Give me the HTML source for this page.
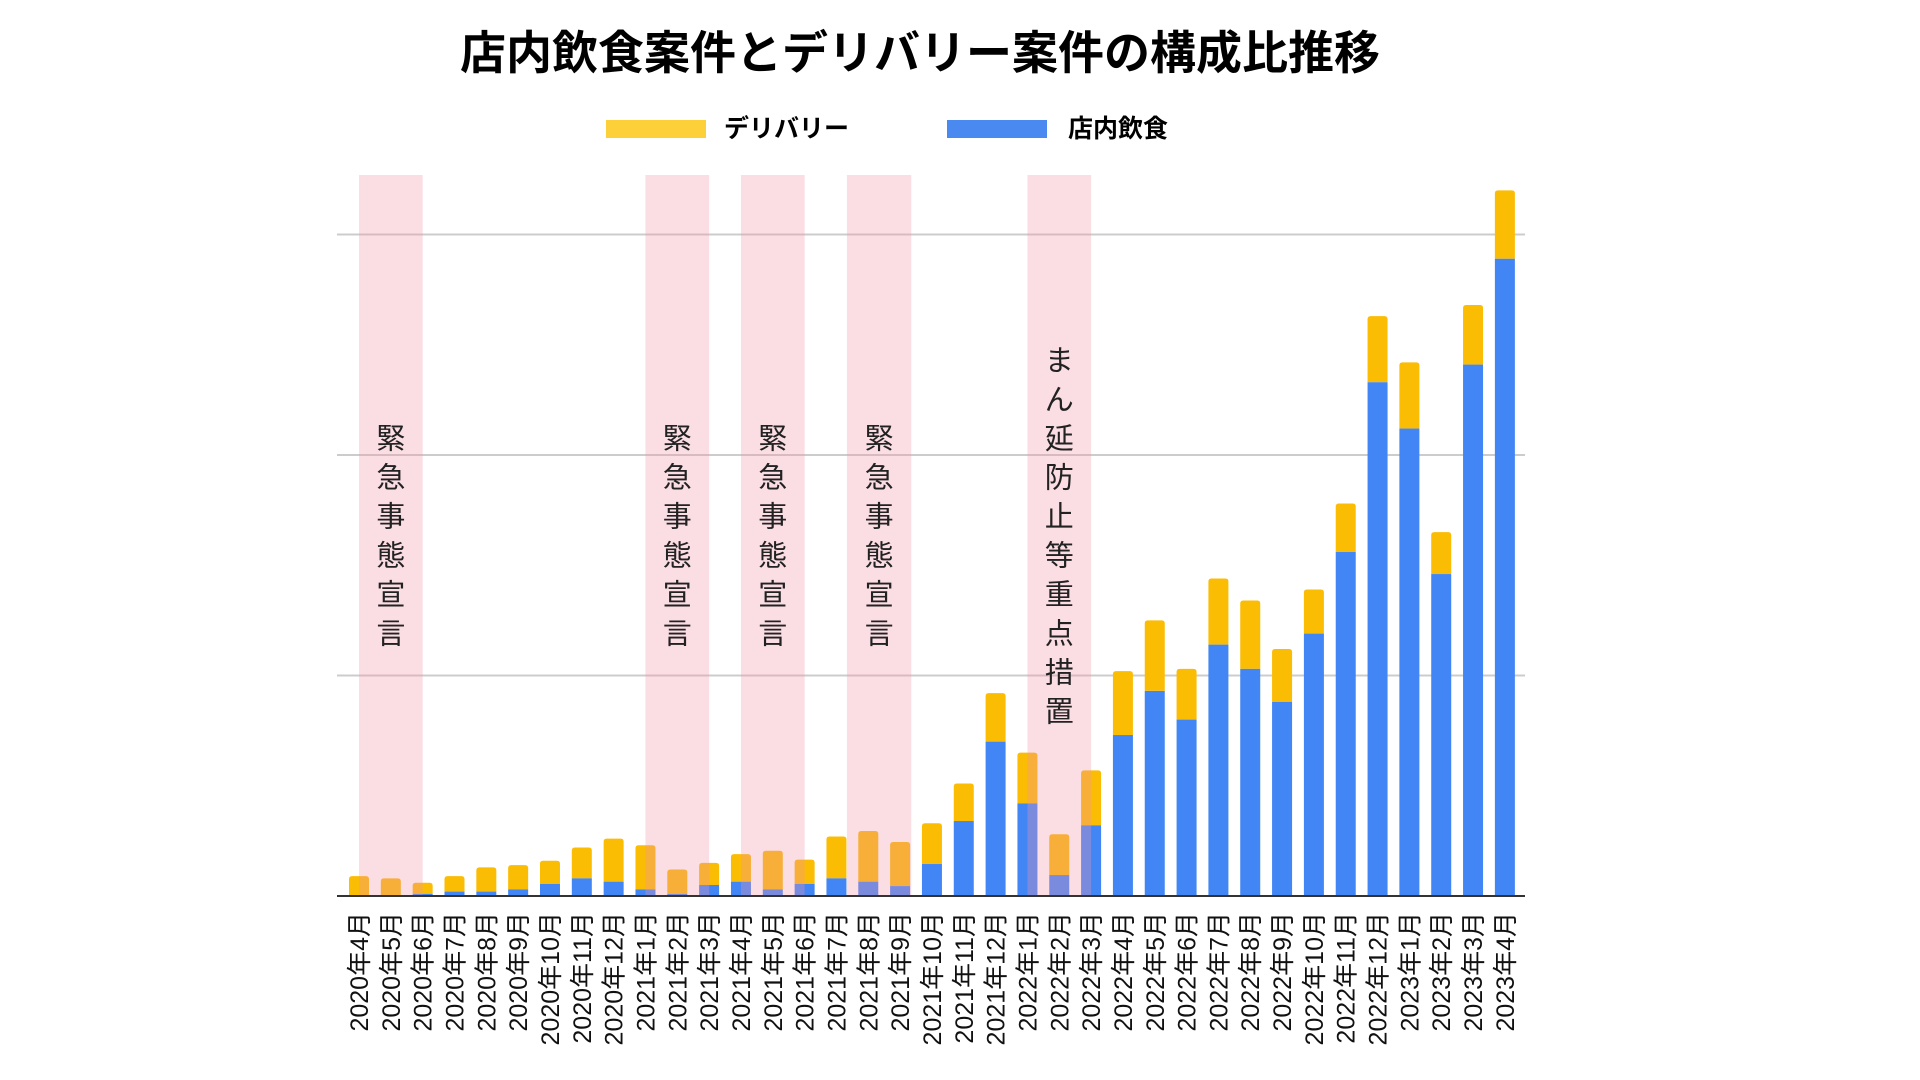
<!DOCTYPE html>
<html lang="ja">
<head>
<meta charset="utf-8">
<title>店内飲食案件とデリバリー案件の構成比推移</title>
<style>
  html,body{margin:0;padding:0;background:#fff;}
  body{width:1920px;height:1080px;overflow:hidden;position:relative;font-family:"Liberation Sans","Noto Sans CJK JP",sans-serif;}
  #title{position:absolute;left:0;width:1840px;top:17px;text-align:center;font-size:46px;font-weight:bold;color:#000;font-family:"Liberation Sans","Noto Sans CJK JP",sans-serif;letter-spacing:0px;}
  .leg-sw{position:absolute;top:120px;width:100px;height:18px;}
  .leg-tx{position:absolute;top:112px;font-size:25px;font-weight:bold;color:#000;line-height:34px;}
  svg{position:absolute;left:0;top:0;}
</style>
</head>
<body>
<div id="title">店内飲食案件とデリバリー案件の構成比推移</div>
<div class="leg-sw" style="left:606px;background:#fdd03a;"></div>
<div class="leg-tx" style="left:724px;">デリバリー</div>
<div class="leg-sw" style="left:947px;background:#4a89ef;"></div>
<div class="leg-tx" style="left:1068px;">店内飲食</div>
<svg id="chart" width="1920" height="1080" xmlns="http://www.w3.org/2000/svg"></svg>
<script>
const months = ["2020年4月","2020年5月","2020年6月","2020年7月","2020年8月","2020年9月","2020年10月","2020年11月","2020年12月","2021年1月","2021年2月","2021年3月","2021年4月","2021年5月","2021年6月","2021年7月","2021年8月","2021年9月","2021年10月","2021年11月","2021年12月","2022年1月","2022年2月","2022年3月","2022年4月","2022年5月","2022年6月","2022年7月","2022年8月","2022年9月","2022年10月","2022年11月","2022年12月","2023年1月","2023年2月","2023年3月","2023年4月"];
const dineIn = [0,0,1,2,2,3,5.5,8,6.5,3,1,5,6.5,3,5.5,8,6.5,4.5,14.5,34,70,42,9.5,32,73,93,80,114,103,88,119,156,233,212,146,241,289];
const delivery = [9,8,5,7,11,11,10.5,14,19.5,20,11,10,12.5,17.5,11,19,23,20,18.5,17,22,23,18.5,25,29,32,23,30,31,24,20,22,30,30,19,27,31];
const gridTicks = [100,200,300];
const bandStart = [0,9,12,15.33,21];
const bandEnd = [2,11,14,17.35,23];
const bandLabels = ["緊急事態宣言","緊急事態宣言","緊急事態宣言","緊急事態宣言","まん延防止等重点措置"];

const NS = "http://www.w3.org/2000/svg";
const svg = document.getElementById("chart");
const X0 = 337, X1 = 1525, BASE = 896, TOP = 175;
const PX_PER_UNIT = 2.205, FIRST_C = 359, PITCH = 31.83, BW = 20;
function xc(i){ return FIRST_C + i*PITCH; }
function y(v){ return BASE - v*PX_PER_UNIT; }
function mk(tag, attrs){ const e = document.createElementNS(NS, tag); for (const k in attrs) e.setAttribute(k, attrs[k]); svg.appendChild(e); return e; }
function topRounded(x, yt, w, h, r){
  r = Math.min(r, h);
  return `M${x},${yt+h} L${x},${yt+r} Q${x},${yt} ${x+r},${yt} L${x+w-r},${yt} Q${x+w},${yt} ${x+w},${yt+r} L${x+w},${yt+h} Z`;
}

gridTicks.forEach((t) => {
  const g = mk("line", {x1:X0, x2:X1, y1:y(t), y2:y(t), stroke:"#cccccc", "stroke-width":2});
  
  
});

months.forEach((m, i) => {
  const x = xc(i) - BW/2;
  const hb = dineIn[i]*PX_PER_UNIT;
  const hd = delivery[i]*PX_PER_UNIT;
  const yd = y(dineIn[i] + delivery[i]);
  const d = mk("path", {d: topRounded(x, yd, BW, hd, 3), fill:"#fbbc04"});
  
  
  if (hb > 0) {
    const b = mk("rect", {x:x, y:y(dineIn[i]), width:BW, height:hb, fill:"#4285f4"});
    
    
  }
  const tx = xc(i) + 9, ty = 912;
  const t = mk("text", {x:tx, y:ty, transform:`rotate(-90 ${tx} ${ty})`, "text-anchor":"end", "font-size":25, fill:"#111", "font-family":'"Liberation Sans","Noto Sans CJK JP",sans-serif'});
  t.textContent = m;
  
  
});

bandStart.forEach((s, k) => {
  const xa = xc(s), xb = xc(bandEnd[k]);
  const r = mk("rect", {x:xa, y:TOP, width:xb-xa, height:BASE-TOP, fill:"rgba(244,150,172,0.32)"});
  
  
  const chars = bandLabels[k].split("");
  const step = 39;
  const startY = 535 - (chars.length*step)/2 + step*0.78;
  chars.forEach((c, j) => {
    const t = mk("text", {x:(xa+xb)/2, y:startY + j*step, "text-anchor":"middle", "font-size":29, fill:"#222", "font-family":'"Liberation Sans","Noto Sans CJK JP",sans-serif'});
    t.textContent = c;
    
    
  });
});

const ax = mk("line", {x1:X0, x2:X1, y1:BASE, y2:BASE, stroke:"#333", "stroke-width":2});


</script>
</body>
</html>
